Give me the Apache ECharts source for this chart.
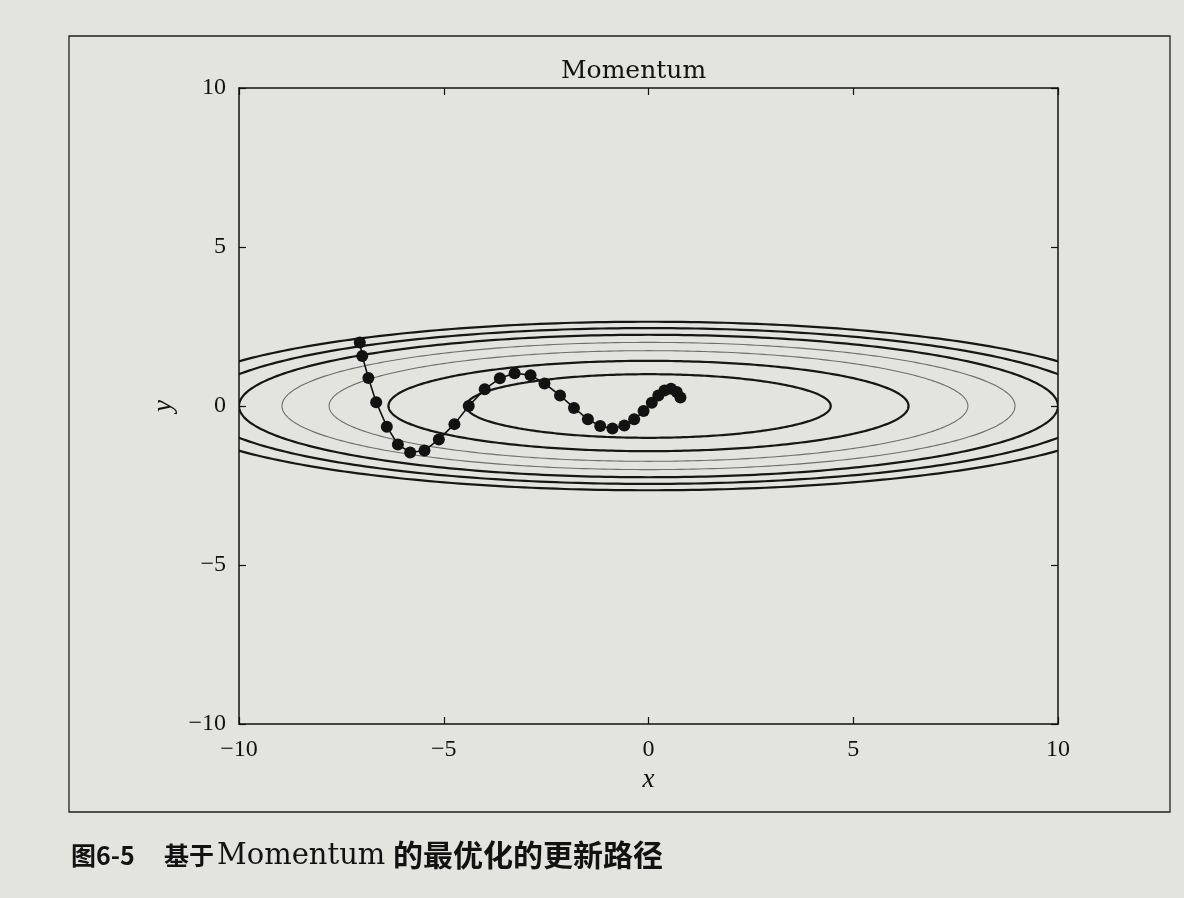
<!DOCTYPE html>
<html>
<head>
<meta charset="utf-8">
<script src="https://cdn.jsdelivr.net/npm/echarts@6/dist/echarts.min.js"></script>
<style>
html,body{margin:0;padding:0;background:#e3e3e0;}
#c{width:1184px;height:898px;}
</style>
</head>
<body>
<div id="c"></div>
<script>
// ---- data ----
const titleText = 'Momentum';
const xAxisTicks = [-10, -5, 0, 5, 10];
const yAxisTicks = [-10, -5, 0, 5, 10];
const xName = 'x';
const yName = 'y';

// optimisation path (one marker per update step)
const pathX = [-7.05, -6.99, -6.84, -6.65, -6.39, -6.12, -5.82, -5.47, -5.12, -4.74,
               -4.39, -4.00, -3.63, -3.27, -2.88, -2.54, -2.16, -1.82, -1.48, -1.18,
               -0.88, -0.59, -0.35, -0.12, 0.08, 0.24, 0.39, 0.55, 0.69, 0.78];
const pathY = [2.00, 1.57, 0.88, 0.12, -0.65, -1.21, -1.46, -1.40, -1.05, -0.57,
               0.00, 0.53, 0.87, 1.03, 0.97, 0.71, 0.33, -0.06, -0.42, -0.63,
               -0.71, -0.61, -0.42, -0.16, 0.10, 0.33, 0.49, 0.54, 0.44, 0.27];

// contour ellipses centred at the origin: half-widths along x and y
const contourRx = [4.45, 6.35, 7.8, 8.95, 10.0, 10.95, 11.8];
const contourRy = [1.0, 1.42, 1.74, 2.0, 2.24, 2.45, 2.65];
const contourKind = ['dark', 'dark', 'light', 'light', 'dark', 'dark', 'dark'];

const captionParts = ['图6-5', '基于', 'Momentum', '的最优化的更新路径'];

// ---- chart ----
const serif = "'Liberation Serif', 'DejaVu Serif', serif";
const dvSerif = "'DejaVu Serif', 'Liberation Serif', serif";
const cjk = "'Noto Sans CJK SC', sans-serif";
const ink = '#121212';
const fmt = v => String(v).replace('-', '\u2212');

const chart = echarts.init(document.getElementById('c'));

const axisCommon = {
  type: 'value', min: -10, max: 10, interval: 5,
  axisLine: { show: true, onZero: false, lineStyle: { color: ink, width: 1.5 } },
  axisTick: { show: true, inside: true, length: 7, lineStyle: { color: ink, width: 1.2 } },
  splitLine: { show: false }
};

const option = {
  backgroundColor: '#e3e3e0',
  animation: false,
  title: {
    text: titleText, left: 556, top: 54,
    textStyle: { fontFamily: dvSerif, fontSize: 25, fontWeight: 'normal', color: ink }
  },
  grid: { left: 239, right: 126, top: 88, bottom: 174 },
  xAxis: [
    Object.assign({}, axisCommon, {
      position: 'bottom', name: xName, nameLocation: 'middle', nameGap: 42,
      nameTextStyle: { fontFamily: serif, fontStyle: 'italic', fontSize: 27, color: ink },
      axisLabel: { formatter: fmt, fontFamily: serif, fontSize: 24, color: ink, margin: 14,
                   customValues: xAxisTicks }
    }),
    Object.assign({}, axisCommon, { position: 'top', axisLabel: { show: false } })
  ],
  yAxis: [
    Object.assign({}, axisCommon, {
      position: 'left', name: yName, nameLocation: 'middle', nameGap: 56,
      nameTextStyle: { fontFamily: serif, fontStyle: 'italic', fontSize: 27, color: ink },
      axisLabel: { formatter: fmt, fontFamily: serif, fontSize: 24, color: ink, margin: 13,
                   customValues: yAxisTicks }
    }),
    Object.assign({}, axisCommon, { position: 'right', axisLabel: { show: false } })
  ],
  graphic: [
    { type: 'rect', shape: { x: 69, y: 36, width: 1101, height: 776 },
      style: { fill: null, stroke: '#222', lineWidth: 1.3 }, silent: true },
    { type: 'text', x: 71, y: 855, style: { text: captionParts[0], font: 'bold 25px ' + cjk, fill: ink, verticalAlign: 'middle' } },
    { type: 'text', x: 164, y: 855, style: { text: captionParts[1], font: 'bold 25px ' + cjk, fill: ink, verticalAlign: 'middle' } },
    { type: 'text', x: 217, y: 856, style: { text: captionParts[2], font: '29px ' + dvSerif, fill: ink, verticalAlign: 'middle' } },
    { type: 'text', x: 393, y: 855, style: { text: captionParts[3], font: 'bold 30px ' + cjk, fill: ink, verticalAlign: 'middle' } }
  ],
  series: [
    {
      type: 'custom', xAxisIndex: 0, yAxisIndex: 0, clip: true, silent: true, z: 2,
      data: contourRx.map((a, i) => [a, contourRy[i], i]),
      renderItem: function (params, api) {
        const a = api.value(0), b = api.value(1), i = api.value(2);
        const c = api.coord([0, 0]);
        const rx = api.size([a, 0])[0];
        const ry = api.size([0, b])[1];
        const pts = [];
        for (let k = 0; k <= 360; k++) {
          const t = k / 360 * 2 * Math.PI;
          pts.push([c[0] + rx * Math.cos(t), c[1] + ry * Math.sin(t)]);
        }
        const light = contourKind[i] === 'light';
        return {
          type: 'polyline', shape: { points: pts },
          style: { stroke: light ? '#6e6e6e' : '#161616', lineWidth: light ? 1.1 : 2.2, fill: null }
        };
      }
    },
    {
      type: 'line', xAxisIndex: 0, yAxisIndex: 0, z: 5,
      data: pathX.map((x, i) => [x, pathY[i]]),
      symbol: 'circle', symbolSize: 12, showAllSymbol: true,
      lineStyle: { color: ink, width: 1.6 },
      itemStyle: { color: ink }
    }
  ]
};
chart.setOption(option);
</script>
</body>
</html>
